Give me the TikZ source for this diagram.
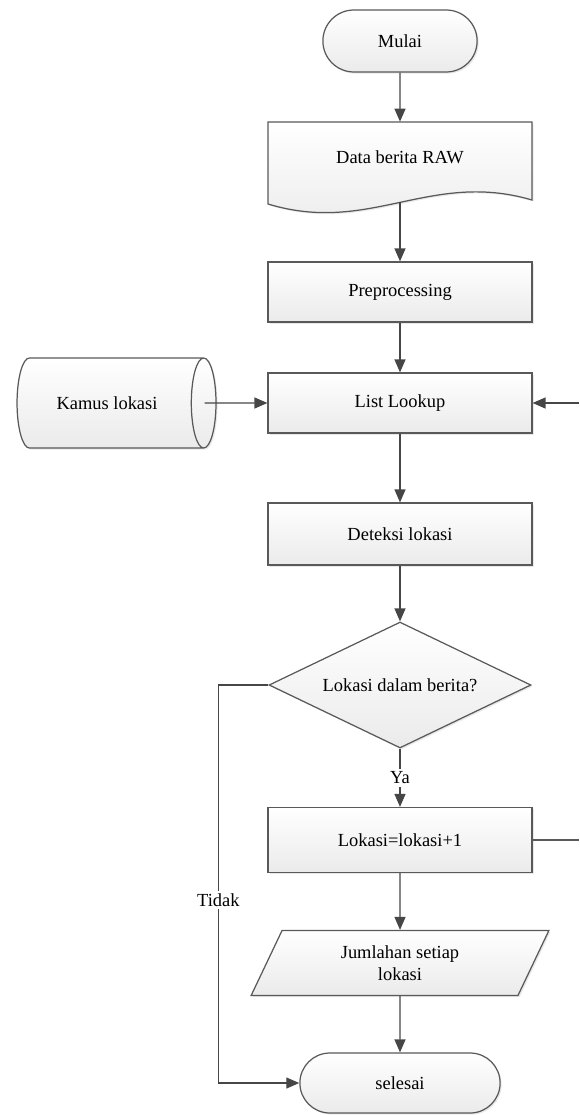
\documentclass[tikz,border=0pt]{standalone}
\usepackage{fontspec}
\setmainfont{Liberation Serif}
\usetikzlibrary{shapes.geometric,shapes.misc,arrows.meta,shadows}

\tikzset{
    garis/.style={draw=gray!70!black, line width=0.7pt},
    isi/.style={garis, top color=white, bottom color=gray!16,
        drop shadow={opacity=0.18, shadow xshift=0.9pt, shadow yshift=-0.9pt}},
    terminal/.style={isi, rounded rectangle, minimum width=3.32cm, minimum height=1.24cm},
    proses/.style={isi, rectangle, minimum width=5.28cm, minimum height=1.2cm},
    panah/.style={draw=gray!55!black, line width=0.7pt, -{Triangle[length=2.6mm,width=2.2mm]}},
    ket/.style={fill=white, inner sep=1.5pt}
}

\begin{document}
\begin{tikzpicture}[x=0.02cm, y=0.02cm, font=\fontsize{10.5}{12.6}\selectfont]
    \useasboundingbox (0,0) rectangle (579,-1115);

    % Mulai
    \node[terminal] (mulai) at (400,-41) {Mulai};

    % Data berita (dokumen)
    \draw[isi] (268,-122) -- (532,-122) -- (532,-200)
        .. controls (430,-170) and (370,-235) .. (268,-204) -- cycle;
    \node[minimum width=5.28cm, minimum height=1.4cm] (data) at (400,-157) {Data berita RAW};
    \coordinate (dataout) at (400,-202);

    % Preprocessing dan List Lookup
    \node[proses] (prep) at (400,-292) {Preprocessing};
    \node[proses] (lookup) at (400,-403) {List Lookup};

    % Kamus lokasi
    \node[isi, cylinder, minimum width=1.8cm, minimum height=3.98cm, aspect=1] (kamus) at (107,-403) {Kamus lokasi};

    % Deteksi dan keputusan
    \node[proses, minimum height=1.24cm] (deteksi) at (400,-534) {Deteksi lokasi};
    \node[isi, diamond, aspect=2, inner sep=0pt, minimum width=5.24cm, minimum height=2.52cm] (cek) at (400,-685) {Lokasi dalam berita?};

    % Hitung
    \node[proses, minimum height=1.3cm] (tambah) at (400,-840) {Lokasi=lokasi+1};
    \node[isi, trapezium, trapezium left angle=70, trapezium right angle=110, trapezium stretches=true,
        minimum width=5.96cm, minimum height=1.3cm, align=center] (jumlah) at (400,-963) {Jumlahan setiap\\lokasi};

    % Selesai
    \node[terminal, minimum width=4.24cm, minimum height=1.2cm] (selesai) at (400,-1083) {selesai};

    % Alur
    \coordinate (balikmasuk) at (579,-403);
    \coordinate (balikkeluar) at (579,-840);
    \draw[panah] (mulai) -- (data);
    \draw[panah] (dataout) -- (prep);
    \draw[panah] (prep) -- (lookup);
    \draw[panah, shorten <=-0.24cm] (kamus) -- (lookup);
    \draw[panah] (balikmasuk) -- (lookup);
    \draw[panah] (lookup) -- (deteksi);
    \draw[panah] (deteksi) -- (cek);
    \draw[panah] (cek) -- node[ket] {Ya} (tambah);
    \draw[garis] (tambah) -- (balikkeluar);
    \draw[panah] (tambah) -- (jumlah);
    \draw[panah] (jumlah) -- (selesai);
    \draw[panah] (cek.west) -- ++(-50,0) |- node[ket, pos=0.27] {Tidak} (selesai);
\end{tikzpicture}
\end{document}
